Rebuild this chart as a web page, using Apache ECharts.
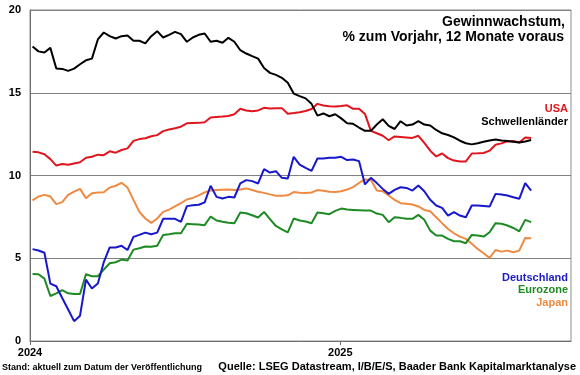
<!DOCTYPE html>
<html>
<head>
<meta charset="utf-8">
<script src="https://cdn.jsdelivr.net/npm/echarts@6/dist/echarts.min.js"></script>
<style>
html,body{margin:0;padding:0;background:#fff;}
#chart{width:580px;height:375px;}
</style>
</head>
<body>
<div id="chart"></div>
<script>
const dates = [
 '2024-01-04','2024-01-11','2024-01-18','2024-01-25','2024-02-01','2024-02-08','2024-02-15','2024-02-22','2024-02-29',
 '2024-03-07','2024-03-14','2024-03-21','2024-03-28','2024-04-04','2024-04-11','2024-04-18','2024-04-25',
 '2024-05-02','2024-05-09','2024-05-16','2024-05-23','2024-05-30','2024-06-06','2024-06-13','2024-06-20','2024-06-27',
 '2024-07-04','2024-07-11','2024-07-18','2024-07-25','2024-08-01','2024-08-08','2024-08-15','2024-08-22','2024-08-29',
 '2024-09-05','2024-09-12','2024-09-19','2024-09-26','2024-10-03','2024-10-10','2024-10-17','2024-10-24','2024-10-31',
 '2024-11-07','2024-11-14','2024-11-21','2024-11-28','2024-12-05','2024-12-12','2024-12-19','2024-12-26',
 '2025-01-02','2025-01-09','2025-01-16','2025-01-23','2025-01-30','2025-02-06','2025-02-13','2025-02-20','2025-02-27',
 '2025-03-06','2025-03-13','2025-03-20','2025-03-27','2025-04-03','2025-04-10','2025-04-17','2025-04-24',
 '2025-05-01','2025-05-08','2025-05-15','2025-05-22','2025-05-29','2025-06-05','2025-06-12','2025-06-19','2025-06-26',
 '2025-07-03','2025-07-10','2025-07-17','2025-07-24','2025-07-31','2025-08-07','2025-08-14'
];

const schwellenlaender = [
 17.8,17.5,17.43,17.71,16.46,16.44,16.32,16.46,16.72,16.96,
 17.06,18.22,18.64,18.42,18.28,18.42,18.46,18.14,18.14,17.98,
 18.42,18.72,18.34,18.5,18.68,18.54,18.08,18.34,18.5,18.58,
 18.08,18.14,18.02,18.32,18.08,17.57,17.37,17.21,17.06,16.5,
 16.2,16.08,15.9,15.6,14.95,14.8,14.66,14.33,13.62,13.75,
 13.58,13.7,13.45,13.16,13.12,12.9,12.7,12.7,13.08,13.4,
 13.0,12.81,13.28,13.02,13.08,13.28,13.08,13.02,12.75,12.55,
 12.45,12.3,12.1,11.95,11.88,11.95,12.04,12.12,12.17,12.11,
 12.08,12.04,12.0,12.06,12.15
];
const usa = [
 11.43,11.4,11.28,10.99,10.6,10.69,10.65,10.73,10.8,11.07,
 11.13,11.26,11.23,11.46,11.38,11.54,11.64,12.09,12.2,12.25,
 12.37,12.44,12.68,12.78,12.86,12.95,13.15,13.17,13.18,13.22,
 13.5,13.54,13.56,13.6,13.7,14.03,13.93,13.88,13.93,14.09,
 14.05,14.07,14.07,13.73,13.77,13.82,13.9,14.02,14.33,14.23,
 14.19,14.17,14.2,14.24,14.03,14.03,13.72,12.7,12.55,12.4,
 12.13,12.36,12.33,12.3,12.27,12.4,11.97,11.5,11.15,11.33,
 11.05,10.9,10.85,10.85,11.33,11.34,11.36,11.5,11.86,11.94,
 12.06,12.08,12.0,12.3,12.27
];
const deutschland = [
 5.55,5.47,5.33,3.47,3.31,2.6,1.9,1.2,1.53,3.71,
 3.17,3.47,4.76,5.65,5.65,5.75,5.5,6.29,6.41,6.55,
 6.45,6.55,7.38,7.38,7.38,7.2,8.15,8.2,8.23,8.38,
 9.38,8.71,8.61,8.71,8.67,9.52,9.72,9.66,9.52,10.38,
 10.18,10.26,9.86,9.82,11.13,10.66,10.46,10.28,11.03,11.03,
 11.07,11.07,11.13,10.93,10.97,10.87,9.46,9.86,9.54,9.19,
 8.89,9.13,9.29,9.25,9.09,9.4,9.05,8.53,8.19,8.04,
 7.58,7.78,7.58,7.48,8.19,8.19,8.16,8.12,8.89,8.85,
 8.79,8.69,8.59,9.54,9.09
];
const eurozone = [
 4.05,4.03,3.77,2.72,2.88,3.08,2.88,2.84,2.84,4.03,
 3.91,3.91,4.31,4.7,4.76,4.92,4.86,5.52,5.6,5.71,
 5.69,5.75,6.41,6.45,6.51,6.51,7.08,7.06,7.04,7.0,
 7.52,7.28,7.2,7.15,7.12,7.76,7.72,7.6,7.46,7.8,
 7.36,6.95,6.74,6.56,7.4,7.28,7.22,7.12,7.76,7.72,
 7.66,7.86,8.0,7.94,7.92,7.9,7.88,7.88,7.7,7.62,
 7.18,7.48,7.44,7.38,7.38,7.62,7.32,6.67,6.37,6.37,
 6.17,6.03,6.03,5.91,6.41,6.37,6.31,6.57,7.12,7.08,
 6.98,6.83,6.63,7.32,7.18
];
const japan = [
 8.5,8.73,8.83,8.73,8.27,8.39,8.83,9.03,9.19,8.63,
 8.93,8.97,8.99,9.27,9.38,9.56,9.27,8.53,7.8,7.4,
 7.14,7.4,7.8,7.94,8.13,8.33,8.55,8.65,8.8,8.98,
 9.1,9.12,9.14,9.15,9.12,9.15,9.22,9.12,9.02,8.95,
 8.86,8.78,8.77,8.8,9.0,8.96,8.95,8.97,9.12,9.08,
 9.02,9.0,9.05,9.15,9.3,9.55,9.76,9.74,9.09,9.05,
 8.79,8.53,8.33,8.29,8.25,8.13,7.92,7.84,7.48,7.12,
 6.77,6.51,6.31,6.17,5.87,5.56,5.3,5.02,5.5,5.4,
 5.46,5.36,5.46,6.23,6.21
];

const xStart = '2024-01-01';
const xEnd = '2025-09-30';
const yearTickLabels = ['2024', '2025'];
const yearTickDates = ['2024-01-01', '2025-01-01'];
const yTicks = [0, 5, 10, 15, 20];

const titleLines = ['Gewinnwachstum,', '% zum Vorjahr, 12 Monate voraus'];
const sourceText = 'Quelle: LSEG Datastream, I/B/E/S, Baader Bank Kapitalmarktanalyse';
const standText = 'Stand: aktuell zum Datum der Veröffentlichung';

const DAY = 86400000;
const t0 = Date.parse(xStart);
const toDay = d => Math.round((Date.parse(d) - t0) / DAY);
const xs = dates.map(toDay);
const yearTickDays = yearTickDates.map(toDay);
const pair = arr => arr.map((v, i) => [xs[i], v]);

const FONT = '"Liberation Sans", Arial, sans-serif';

const seriesDefs = [
  { name: 'Japan', data: japan, color: '#EE8A42' },
  { name: 'Eurozone', data: eurozone, color: '#1E8A24' },
  { name: 'Deutschland', data: deutschland, color: '#1717CC' },
  { name: 'USA', data: usa, color: '#E0161E' },
  { name: 'Schwellenländer', data: schwellenlaender, color: '#000000' }
];

const chart = echarts.init(document.getElementById('chart'), null, { renderer: 'canvas' });

const labelStyle = (text, color, y) => ({
  type: 'text', right: 12, top: y,
  style: { text, fill: color, font: 'bold 11px ' + FONT, textAlign: 'right' }
});

chart.setOption({
  animation: false,
  backgroundColor: '#ffffff',
  grid: { left: 30, right: 9, top: 10, bottom: 34, show: true, borderColor: '#8c8c8c', borderWidth: 1 },
  xAxis: {
    type: 'value',
    min: 0,
    max: toDay(xEnd),
    interval: yearTickDays[1] - yearTickDays[0],
    axisLine: { show: true, lineStyle: { color: '#707070', width: 1 } },
    axisTick: { show: true, length: 4, customValues: yearTickDays, lineStyle: { color: '#707070' } },
    axisLabel: {
      customValues: yearTickDays,
      formatter: v => { const k = yearTickDays.indexOf(v); return k >= 0 ? yearTickLabels[k] : ''; },
      color: '#000', fontFamily: FONT, fontWeight: 'bold', fontSize: 11, margin: 6
    },
    splitLine: { show: false }
  },
  yAxis: {
    type: 'value',
    min: yTicks[0],
    max: yTicks[yTicks.length - 1],
    interval: yTicks[1] - yTicks[0],
    axisLine: { show: true, lineStyle: { color: '#707070', width: 1 } },
    axisTick: { show: false },
    axisLabel: { color: '#000', fontFamily: FONT, fontWeight: 'bold', fontSize: 11, margin: 9 },
    splitLine: { show: true, lineStyle: { color: '#808080', width: 1 } }
  },
  series: seriesDefs.map(s => ({
    name: s.name,
    type: 'line',
    data: pair(s.data),
    showSymbol: false,
    symbol: 'none',
    lineStyle: { color: s.color, width: 2 },
    itemStyle: { color: s.color },
    z: 2
  })),
  graphic: [
    { type: 'text', right: 15, top: 15, style: { text: titleLines[0], fill: '#000', font: 'bold 14px ' + FONT, textAlign: 'right' } },
    { type: 'text', right: 16, top: 30, style: { text: titleLines[1], fill: '#000', font: 'bold 14px ' + FONT, textAlign: 'right' } },
    labelStyle('USA', '#E0161E', 103),
    labelStyle('Schwellenländer', '#000000', 116),
    labelStyle('Deutschland', '#1A1AC8', 272),
    labelStyle('Eurozone', '#1E8A24', 284),
    labelStyle('Japan', '#EE8A42', 297),
    { type: 'text', left: 2, top: 363, style: { text: standText, fill: '#000', font: 'bold 9px ' + FONT } },
    { type: 'text', right: 4, top: 361, style: { text: sourceText, fill: '#000', font: 'bold 11px ' + FONT, textAlign: 'right' } }
  ]
});
</script>
</body>
</html>
